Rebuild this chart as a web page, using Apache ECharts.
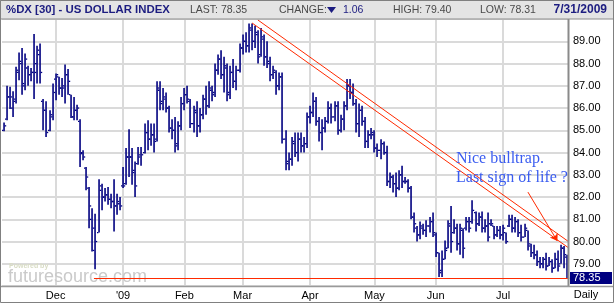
<!DOCTYPE html>
<html><head><meta charset="utf-8">
<script src="https://cdn.jsdelivr.net/npm/echarts@6/dist/echarts.min.js"></script>
<style>html,body{margin:0;padding:0;background:#fff;}#c{width:614px;height:303px;}</style>
</head><body><div id="c"></div>
<script>
// trading days per month
const tradingDays = {
  '2008-11': [5,6,7,10,11,12,13,14,17,18,19,20,21,24,25,26,28],
  '2008-12': [1,2,3,4,5,8,9,10,11,12,15,16,17,18,19,22,23,24,26,29,30,31],
  '2009-01': [2,5,6,7,8,9,12,13,14,15,16,20,21,22,23,26,27,28,29,30],
  '2009-02': [2,3,4,5,6,9,10,11,12,13,17,18,19,20,23,24,25,26,27],
  '2009-03': [2,3,4,5,6,9,10,11,12,13,16,17,18,19,20,23,24,25,26,27,30,31],
  '2009-04': [1,2,3,6,7,8,9,13,14,15,16,17,20,21,22,23,24,27,28,29,30],
  '2009-05': [1,4,5,6,7,8,11,12,13,14,15,18,19,20,21,22,26,27,28,29],
  '2009-06': [1,2,3,4,5,8,9,10,11,12,15,16,17,18,19,22,23,24,25,26,29,30],
  '2009-07': [1,2,6,7,8,9,10,13,14,15,16,17,20,21,22,23,24,27,28,29,30,31]
};
const monthLabels = {'2008-12':'Dec','2009-01':"'09",'2009-02':'Feb','2009-03':'Mar','2009-04':'Apr','2009-05':'May','2009-06':'Jun','2009-07':'Jul'};

// OHLC bars: [open, high, low, close]
const novBars = [
 [85.0,85.35,84.95,85.2],[85.5,87.0,85.45,86.5],[86.5,86.95,85.95,86.5],[86.0,86.75,85.6,86.3],
 [86.4,87.85,86.2,87.7],[87.6,88.5,87.25,88.1],[88.0,88.7,86.6,87.1],[87.0,88.45,86.8,88.2],
 [87.8,87.9,87.0,87.5],[87.5,87.8,87.2,87.6],[87.6,89.33,86.4,87.6],[88.0,88.8,87.1,88.6],
 [88.4,88.9,87.1,87.6],[86.3,86.4,85.0,85.9],[85.9,86.3,84.7,84.9],[85.0,85.9,84.95,85.7],
 [85.6,87.1,85.45,86.7]];
const decBars = [
 [87.3,87.55,86.35,87.5],[87.4,87.4,86.6,86.9],[86.9,87.35,86.5,86.9],[87.0,87.95,86.2,87.5],
 [87.5,87.75,86.6,87.2],[86.6,86.6,85.55,85.6],[85.6,86.5,85.45,85.9],[85.9,86.15,85.45,86.0],
 [85.4,85.5,83.35,83.95],[84.0,84.1,83.65,83.8],[83.3,83.35,82.3,82.9],[82.4,82.45,80.6,81.6],
 [81.0,81.5,79.55,79.6],[80.6,81.25,78.75,80.0],[80.4,82.8,80.4,82.3],[82.5,82.6,81.4,82.0],
 [82.0,82.4,81.8,82.1],[82.1,82.45,81.65,81.9],[81.9,82.15,81.5,81.8],[81.8,82.8,80.45,81.6],
 [81.6,82.15,81.2,81.8],[81.7,82.0,81.4,81.6]];
const janBars = [
 [82.5,83.35,82.4,82.5],[82.6,84.2,82.55,83.8],[83.8,85.05,82.9,83.8],[83.8,84.2,82.55,83.1],
 [83.2,83.6,82.0,82.5],[83.5,84.25,83.45,83.8],[83.9,84.25,83.4,83.9],[84.0,85.3,83.95,84.9],
 [84.9,85.45,84.1,84.6],[84.6,85.3,84.3,84.8],[84.8,85.3,84.0,84.5],[84.6,87.2,84.5,86.9],
 [86.8,87.2,85.9,86.2],[86.3,86.9,85.9,86.5],[86.4,86.7,85.8,86.0],[86.0,86.1,84.9,85.1],
 [85.1,85.5,84.6,85.0],[85.0,85.6,84.0,84.3],[84.4,85.4,84.1,85.2],[85.2,86.5,85.0,86.2]];
const febBars = [
 [86.2,86.9,85.9,86.6],[86.6,87.0,86.2,86.4],[86.3,86.4,85.1,85.3],[85.3,86.1,84.9,85.9],
 [85.8,86.3,84.7,85.2],[85.2,86.0,84.9,85.7],[85.7,86.6,85.5,86.4],[86.4,87.0,85.7,86.1],
 [86.1,87.2,86.0,86.9],[86.8,87.0,86.3,86.6],[86.7,88.0,86.5,87.7],[87.7,88.4,87.5,88.2],
 [88.2,88.6,87.3,87.5],[87.5,88.3,86.7,87.9],[87.8,88.0,86.3,86.6],[86.7,87.9,86.4,87.6],
 [87.6,88.2,86.9,87.2],[87.2,87.9,86.8,87.7],[87.7,88.9,87.6,88.7]];
const marBars = [
 [88.7,89.3,88.4,89.0],[89.0,89.4,88.5,88.8],[88.8,89.8,88.5,89.6],[89.5,89.8,88.6,89.0],
 [89.0,89.7,88.7,89.4],[89.3,89.5,88.0,88.3],[88.4,89.6,88.3,89.2],[89.1,89.3,87.9,88.3],
 [88.3,89.0,87.8,88.1],[88.0,88.3,87.2,87.5],[87.5,87.9,87.3,87.7],[87.6,87.7,86.6,87.0],
 [87.0,87.6,86.8,87.4],[87.4,87.6,84.4,84.6],[84.6,85.0,83.2,83.5],[83.6,84.0,83.2,83.7],
 [83.7,84.7,83.4,84.5],[84.4,84.9,83.8,84.0],[84.0,84.9,83.6,84.6],[84.6,84.9,84.0,84.3],
 [84.3,84.7,84.0,84.4],[84.4,85.8,84.2,85.6]];
const aprBars = [
 [85.6,86.1,85.3,85.8],[85.8,86.7,85.6,86.3],[86.3,86.5,85.2,85.4],[85.4,85.6,84.5,84.9],
 [84.9,85.5,84.1,85.1],[85.1,85.6,84.9,85.4],[85.4,86.3,85.3,86.0],[86.0,86.2,85.3,85.6],
 [85.6,86.3,85.4,86.1],[86.1,86.3,84.8,85.0],[85.0,85.7,84.9,85.5],[85.5,86.3,85.0,86.1],
 [86.1,87.3,85.9,87.0],[87.0,87.3,86.4,86.7],[86.7,87.1,86.1,86.2],[86.2,86.4,84.9,85.3],
 [85.3,86.2,84.7,85.9],[85.9,86.1,85.2,85.4],[85.4,85.6,84.2,84.5],[84.5,85.0,84.2,84.8],
 [84.8,85.1,84.6,84.9]];
const mayBars = [
 [84.8,85.0,84.0,84.2],[84.2,84.4,83.8,84.1],[84.1,84.6,83.7,84.4],[84.4,84.5,83.9,84.0],
 [84.0,84.3,82.5,82.7],[82.7,83.1,82.4,82.9],[82.9,83.0,82.2,82.6],[82.6,83.1,82.0,82.4],
 [82.4,83.2,82.3,83.0],[83.0,83.4,82.4,82.7],[82.7,82.9,82.6,82.7],[82.7,82.8,82.2,82.4],
 [82.4,82.5,81.0,81.1],[81.1,81.3,80.4,80.8],[80.6,80.7,80.0,80.3],[80.3,80.9,80.1,80.7],
 [80.6,80.8,80.3,80.5],[80.5,80.95,80.2,80.7],[80.7,81.1,80.4,80.9],[80.9,81.3,80.2,80.4]];
const junBars = [
 [80.3,80.4,79.3,79.5],[79.5,79.5,78.4,78.6],[78.7,79.6,78.4,79.2],[79.2,80.05,79.2,79.6],
 [79.7,80.95,79.7,80.8],[80.7,81.6,79.5,80.0],[80.4,81.0,80.35,80.6],[80.6,80.8,79.6,79.9],
 [79.9,80.8,79.4,80.6],[80.5,80.6,79.25,79.7],[80.6,81.1,80.5,80.9],[80.9,81.1,80.4,80.6],
 [80.9,81.85,80.8,81.4],[81.3,81.35,80.45,80.8],[80.8,81.3,80.7,81.1],[81.1,81.35,80.4,80.6],
 [80.6,81.0,80.4,80.7],[80.7,81.3,80.0,80.2],[80.8,81.0,80.7,80.8],[80.7,80.7,80.1,80.3],
 [80.3,80.7,80.2,80.5],[80.5,80.7,80.1,80.3]];
const julBars = [
 [80.3,80.75,80.05,80.6],[80.4,80.4,79.9,80.0],[80.7,81.2,80.65,81.0],[81.0,81.2,80.4,80.6],
 [80.6,81.1,80.4,80.9],[80.9,81.0,80.2,80.4],[80.4,80.75,80.0,80.2],[80.2,80.8,80.2,80.6],
 [80.5,80.5,79.6,79.8],[79.9,79.9,79.3,79.5],[79.5,79.85,79.2,79.4],[79.4,79.6,78.9,79.1],
 [79.1,79.3,78.8,79.0],[79.0,79.3,78.8,79.2],[79.2,79.5,78.7,78.9],[78.9,79.3,78.9,79.1],
 [79.1,79.2,78.6,78.8],[78.8,79.5,78.8,79.2],[79.2,79.6,78.65,78.9],[79.0,79.85,79.0,79.7],
 [79.7,79.8,78.8,79.41],[79.3,79.40,78.31,78.35]];
const allBars = [].concat(novBars, decBars, janBars, febBars, marBars, aprBars, mayBars, junBars, julBars);

// annotation lines (x in bar units, y in index value)
const upperChannel = [[83.5, 89.955],[184.7, 80.01]];
const lowerChannel = [[81.6, 89.82],[184.7, 79.73]];
const supportLine  = [[30.0, 78.35],[184.7, 78.35]];
const arrowLine    = [[171.6, 82.22],[181.2, 80.02]];
const yTicks = {min: 78, max: 90, step: 1};
const lastPrice = 78.35;

const categories = [];
const monthStartIdx = {};
Object.keys(tradingDays).forEach(function (m) {
  tradingDays[m].forEach(function (d, k) {
    if (k === 0) monthStartIdx[categories.length] = monthLabels[m] || '';
    categories.push(m + '-' + (d < 10 ? '0' + d : d));
  });
});
const N = categories.length;
const ohlc = allBars.map(function (b, i) { return [i, b[0], b[1], b[2], b[3]]; });
const isMonthStart = function (idx) { return idx > 0 && monthStartIdx[idx] !== undefined; };

const chart = echarts.init(document.getElementById('c'), null, {renderer: 'canvas'});
const NAVY = '#000080', RED = '#ff2a00', GRID = '#dadada';
const option = {
  animation: false,
  backgroundColor: '#fff',
  grid: {left: 2, right: 45, top: 19, bottom: 17, containLabel: false},
  xAxis: [{
    type: 'category', data: categories, boundaryGap: true,
    axisLine: {show: false}, axisTick: {show: false, alignWithLabel: true},
    axisLabel: {interval: function (idx) { return isMonthStart(idx); },
      formatter: function (v, idx) { return monthStartIdx[idx] || ''; },
      color: '#000', fontSize: 11, fontFamily: 'Liberation Sans', margin: 4},
    splitLine: {show: true, alignWithLabel: true, interval: function (idx) { return isMonthStart(idx); },
      lineStyle: {color: GRID, width: 2}}
  }, {
    type: 'value', min: 0, max: N, show: false, splitLine: {show: false}
  }],
  yAxis: {
    type: 'value', position: 'right', min: yTicks.min, max: yTicks.max, interval: yTicks.step,
    axisLine: {show: false}, axisTick: {show: false},
    axisLabel: {formatter: function (v) { return v.toFixed(2); }, color: '#000', fontSize: 11,
      fontFamily: 'Liberation Sans', margin: 4, showMinLabel: false, showMaxLabel: false},
    splitLine: {show: true, lineStyle: {color: GRID, width: 2}}
  },
  series: [{
    type: 'custom', xAxisIndex: 0, yAxisIndex: 0, data: ohlc, z: 5,
    encode: {x: 0, y: [1, 2, 3, 4]},
    renderItem: function (params, api) {
      const i = api.value(0);
      const pH = api.coord([i, api.value(2)]);
      const pL = api.coord([i, api.value(3)]);
      const pO = api.coord([i, api.value(1)]);
      const pC = api.coord([i, api.value(4)]);
      const x = Math.round(pH[0]);
      return {type: 'group', children: [
        {type: 'rect', shape: {x: x - 0.75, y: pH[1], width: 1.6, height: Math.max(1, pL[1] - pH[1])}, style: {fill: NAVY}},
        {type: 'rect', shape: {x: x - 2, y: pO[1] - 0.6, width: 1.4, height: 1.3}, style: {fill: NAVY}},
        {type: 'rect', shape: {x: x + 0.8, y: pC[1] - 0.6, width: 1.4, height: 1.3}, style: {fill: NAVY}}
      ]};
    }
  }, {
    type: 'lines', coordinateSystem: 'cartesian2d', xAxisIndex: 1, yAxisIndex: 0, z: 6,
    lineStyle: {color: RED, width: 1, opacity: 1}, symbol: 'none',
    data: [{coords: upperChannel}, {coords: lowerChannel}, {coords: supportLine}]
  }, {
    type: 'lines', coordinateSystem: 'cartesian2d', xAxisIndex: 1, yAxisIndex: 0, z: 6,
    lineStyle: {color: RED, width: 1, opacity: 1}, symbol: ['none', 'arrow'], symbolSize: 7,
    data: [{coords: arrowLine}]
  }]
};
chart.setOption(option);

const pLast = chart.convertToPixel({xAxisIndex: 1, yAxisIndex: 0}, [N, lastPrice]);
const txt = function (x, y, text, size, weight, fill, family, align) {
  return {type: 'text', x: x, y: y, z: 11, style: {text: text, fontSize: size, fontWeight: weight,
    fontFamily: family || 'Liberation Sans', fill: fill, align: align || 'left', textAlign: align || 'left',
    verticalAlign: 'middle', textVerticalAlign: 'middle'}};
};
chart.setOption({graphic: [
  // title bar
  {type: 'rect', shape: {x: 0, y: 0, width: 614, height: 19}, style: {fill: '#e4e4e4', stroke: '#8c8c8c', lineWidth: 1}, z: 10},
  txt(6, 10, '%DX [30] - US DOLLAR INDEX', 11.4, 'bold', '#1c1c80'),
  txt(190, 10.5, 'LAST: 78.35', 10.5, 'normal', '#4a4a4a'),
  txt(279, 10.5, 'CHANGE:', 10.5, 'normal', '#4a4a4a'),
  {type: 'polygon', z: 11, shape: {points: [[327, 7], [336, 7], [331.5, 13]]}, style: {fill: '#1c1c80'}},
  txt(343, 10.5, '1.06', 10.5, 'normal', '#1c1c80'),
  txt(393, 10.5, 'HIGH: 79.40', 10.5, 'normal', '#4a4a4a'),
  txt(480, 10.5, 'LOW: 78.31', 10.5, 'normal', '#4a4a4a'),
  txt(607, 10, '7/31/2009', 12, 'bold', '#1c1c80', null, 'right'),
  // frame lines
  {type: 'line', z: 9, shape: {x1: 568.5, y1: 19, x2: 568.5, y2: 287}, style: {stroke: '#8a8a8a', lineWidth: 2}},
  {type: 'line', z: 9, shape: {x1: 0, y1: 286.5, x2: 614, y2: 286.5}, style: {stroke: '#9a9a9a', lineWidth: 1.5}},
  {type: 'rect', z: 12, shape: {x: 0.5, y: 0.5, width: 613, height: 302}, style: {fill: null, stroke: '#808080', lineWidth: 1}},
  // watermark
  Object.assign(txt(9, 266, 'Powered by', 7, 'bold', '#d8dcc4'), {z: 1}),
  Object.assign(txt(8, 277, 'futuresource.com', 18, 'normal', '#cacaca'), {z: 1}),
  // last price tag
  {type: 'rect', z: 12, shape: {x: 570, y: Math.round(pLast[1]) - 6, width: 42, height: 12}, style: {fill: '#000080'}},
  Object.assign(txt(573, Math.round(pLast[1]), lastPrice.toFixed(2), 11, 'normal', '#fff'), {z: 13}),
  txt(586, 295, 'Daily', 11, 'normal', '#000', null, 'center'),
  // annotations
  txt(456, 158.5, 'Nice bulltrap.', 16, 'normal', '#3a5cf0', 'Liberation Serif'),
  txt(456, 178, 'Last sign of life ?', 16, 'normal', '#3a5cf0', 'Liberation Serif')
]});
</script></body></html>
